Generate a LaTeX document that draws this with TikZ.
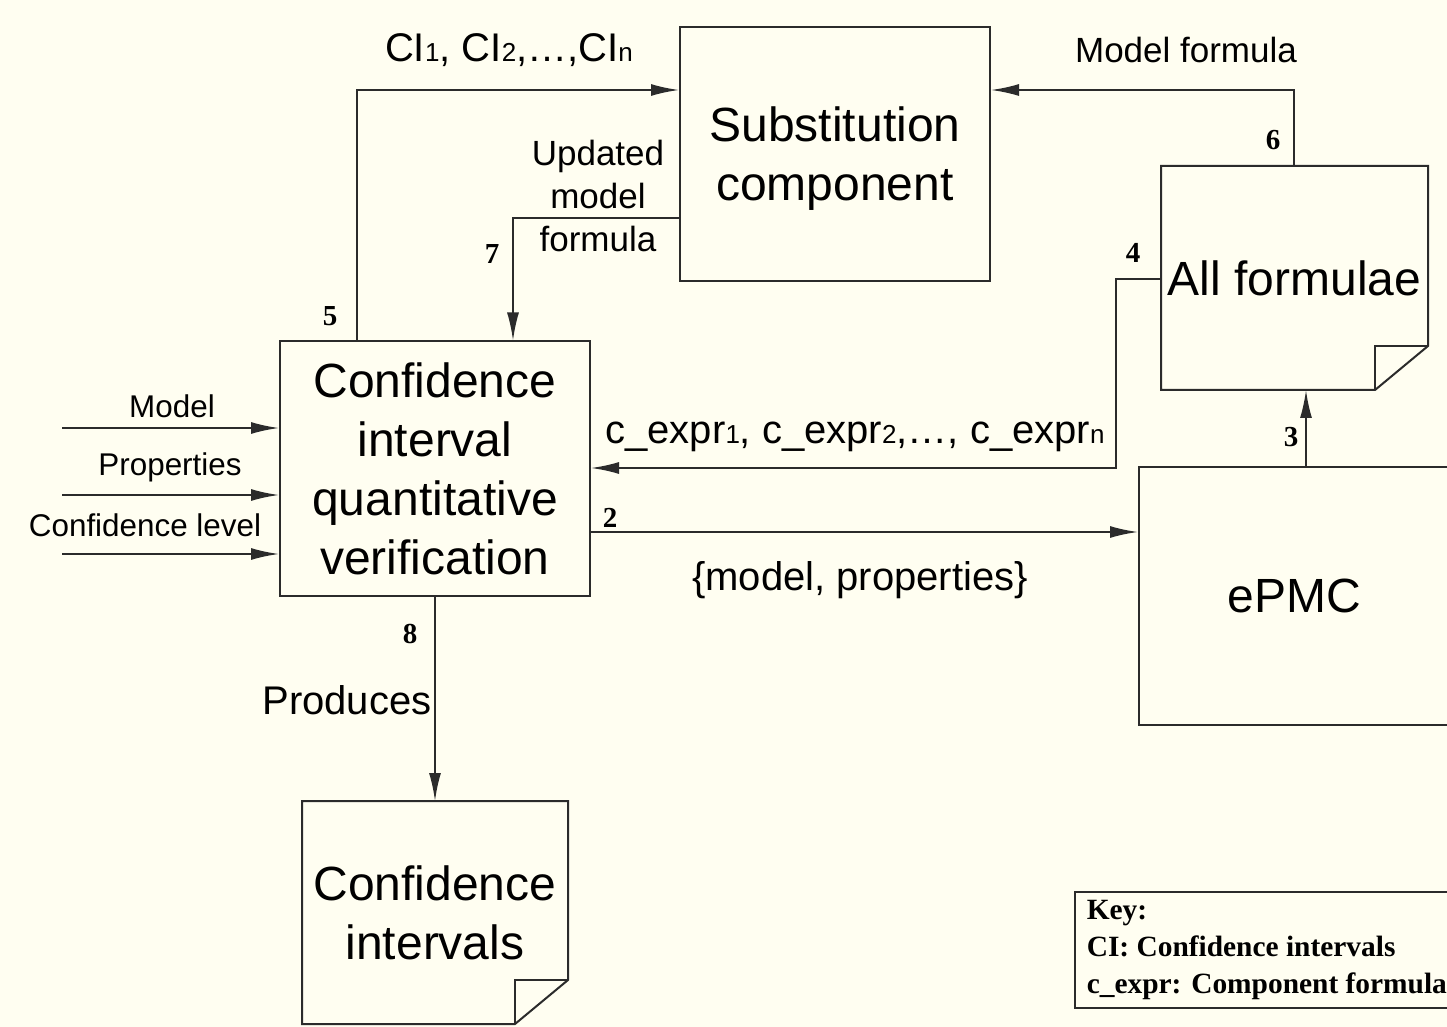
\documentclass[tikz,border=0pt]{standalone}
\usepackage{fontspec}
\setmainfont{Liberation Sans}
\newfontfamily\serifnum{Liberation Serif}
\usepackage{tikz}
\usepackage{xcolor}
\usetikzlibrary{arrows.meta,positioning,calc}
\definecolor{PaperCream}{HTML}{FFFEF1}
\definecolor{InkGrey}{HTML}{2B2B2B}
\newcommand{\idx}[1]{{\fontsize{13pt}{13pt}\selectfont #1}}
% Outline of a document with a folded corner
\newcommand{\docoutline}[1]{%
    \draw[docline] (#1.north west) -- (#1.north east) -- ($(#1.south east)+(0,-44)$) -- ($(#1.south east)+(-53,0)$) -- (#1.south west) -- cycle;
    \draw[docline] ($(#1.south east)+(0,-44)$) -- ($(#1.south east)+(-53,-44)$) -- ($(#1.south east)+(-53,0)$);}
\tikzset{
    % Base box style
    basebox/.style={
        draw=InkGrey,
        fill=PaperCream,
        line width=1pt,
        inner sep=0pt,
        align=center,
        font=\fontsize{24}{29.5}\selectfont
    },
    % Component box
    compbox/.style={
        basebox,
        minimum width=155pt,
        minimum height=127pt
    },
    % Document box (outline drawn separately)
    docbox/.style={
        basebox,
        draw=none,
        minimum width=132.5pt,
        minimum height=111pt
    },
    docline/.style={
        line width=1pt,
        draw=InkGrey
    },
    % Key box
    keybox/.style={
        draw=InkGrey,
        fill=PaperCream,
        line width=0.8pt,
        inner xsep=6pt,
        minimum width=189pt,
        minimum height=58pt,
        align=left,
        font=\serifnum\bfseries\fontsize{14.7}{18.5}\selectfont
    },
    % Arrow style
    flowarrow/.style={
        -{Latex[length=14pt,width=6pt]},
        line width=1pt,
        draw=InkGrey
    },
    % Labels
    flowlabel/.style={
        align=center,
        font=\fontsize{20}{24}\selectfont
    },
    smalllabel/.style={
        align=center,
        font=\fontsize{17.5}{21.5}\selectfont
    },
    inlabel/.style={
        font=\fontsize{15.7}{18}\selectfont
    },
    steplabel/.style={
        inner sep=1pt,
        font=\serifnum\bfseries\fontsize{14.5}{14.5}\selectfont
    }
}
\begin{document}
\begin{tikzpicture}[x=0.5pt, y=-0.5pt]
        \path[use as bounding box, fill=PaperCream] (0,0) rectangle (1447,1027);

        % Components
        \node[compbox, text depth=-6pt] (subst) at (835,154) {Substitution\\component};
        \node[compbox] (ciqv) at (435,468.5) {Confidence\\interval\\quantitative\\verification};
        \node[compbox, minimum width=155.5pt, minimum height=129pt] (epmc) at (1294.5,596) {ePMC};

        % Documents
        \node[docbox] (allf) at (1294.5,278) {All formulae};
        \docoutline{allf}
        \node[docbox, minimum width=132pt, minimum height=110.5pt] (confint) at (435,912.5) {Confidence\\intervals};
        \docoutline{confint}

        % Inputs
        \coordinate (inModel) at (62,428);
        \coordinate (inProps) at (62,495);
        \coordinate (inLevel) at (62,554);
        \draw[flowarrow] (inModel) -- (inModel -| ciqv.west);
        \draw[flowarrow] (inProps) -- (inProps -| ciqv.west);
        \draw[flowarrow] (inLevel) -- (inLevel -| ciqv.west);
        \node[inlabel] at (172,406) {Model};
        \node[inlabel] at (170,467) {Properties};
        \node[inlabel] at (145,525) {Confidence level};

        % Arrows
        \draw[flowarrow] (ciqv.east |- 0,532) -- (epmc.west |- 0,532);
        \draw[flowarrow] (epmc.north -| 1306,0) -- (allf.south -| 1306,0);
        \draw[flowarrow] (allf.west |- 0,279) -- (1116,279) |- (ciqv.east |- 0,468);
        \draw[flowarrow] (ciqv.north -| 357,0) |- (subst.west |- 0,90);
        \draw[flowarrow] (allf.north -| 1294,0) |- (subst.east |- 0,90);
        \draw[flowarrow] (subst.west |- 0,218) -| (ciqv.north -| 513,0);
        \draw[flowarrow] (ciqv.south) -- (confint.north);

        % Step numbers
        \node[steplabel] at (610,518) {2};
        \node[steplabel] at (1291,437) {3};
        \node[steplabel] at (1133,253) {4};
        \node[steplabel] at (330,316) {5};
        \node[steplabel] at (1273,140) {6};
        \node[steplabel] at (492,254) {7};
        \node[steplabel] at (410,634) {8};

        % Connector labels
        \node[flowlabel] at (509,50) {CI\idx{1}, CI\idx{2},…,CI\idx{n}};
        \node[smalllabel] at (1186,50) {Model formula};
        \node[smalllabel] at (598,196) {Updated\\model\\formula};
        \node[flowlabel] at (855,437) {c\_expr\idx{1}, c\_expr\idx{2},…, c\_expr\idx{n}};
        \node[flowlabel] at (860,580) {\{model, properties\}};
        \node[flowlabel] at (347,700) {Produces};

        % Key
        \node[keybox, anchor=west] (key) at (1074,950) {Key:\\CI: Confidence intervals\\c\_expr: Component formula};
    \end{tikzpicture}
\end{document}
